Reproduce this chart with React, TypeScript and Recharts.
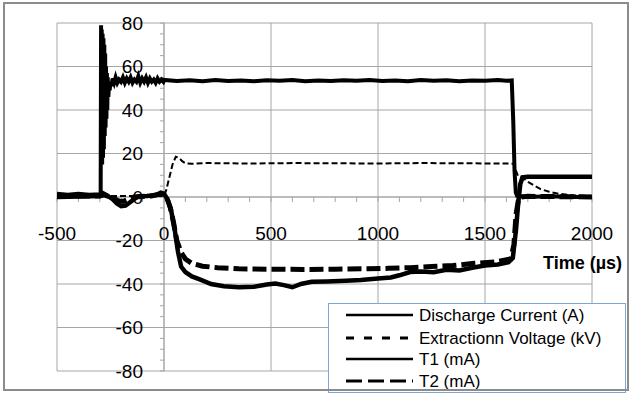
import { LineChart, Line, XAxis, YAxis, CartesianGrid, ReferenceLine } from "recharts"

// chart frame
const W = 631
const H = 393
const M = { top: 23, right: 39, bottom: 21, left: 56 }
const AXIS_SIZE = 1
const PLOT_W = W - M.left - M.right - AXIS_SIZE
const PLOT_H = H - M.top - M.bottom - AXIS_SIZE
const PLOT_LEFT = M.left + AXIS_SIZE
const X_MIN = -500
const X_MAX = 2000
const Y_MIN = -80
const Y_MAX = 80
const X0_PX = PLOT_LEFT + (PLOT_W * (0 - X_MIN)) / (X_MAX - X_MIN)
const Y0_PX = M.top + (PLOT_H * (Y_MAX - 0)) / (Y_MAX - Y_MIN)

const xTicks = [-500, 0, 500, 1000, 1500, 2000]
const yTicks = [-80, -60, -40, -20, 0, 20, 40, 60, 80]
const xMinorTicks = [
  -500, -400, -300, -200, -100, 0, 100, 200, 300, 400, 500, 600, 700, 800, 900, 1000, 1100, 1200,
  1300, 1400, 1500, 1600, 1700, 1800, 1900, 2000,
]
const yMinorTicks = [
  -80, -75, -70, -65, -60, -55, -50, -45, -40, -35, -30, -25, -20, -15, -10, -5, 0, 5, 10, 15, 20,
  25, 30, 35, 40, 45, 50, 55, 60, 65, 70, 75, 80,
]

// Discharge Current (A)
const dcTime = [
  -500, -450, -400, -350, -300, -296, -294, -293, -291, -289, -287, -285, -283, -281, -279, -277,
  -275, -273, -271, -269, -267, -265, -263, -260, -257, -254, -250, -246, -240, -233,
  -226, -218, -210, -201, -192, -183, -174, -165, -156, -147, -138, -129, -120, -111, -102, -93, -84,
  -75, -66, -57, -48, -39, -30, -21, -12, -3, 0, 60, 120, 180, 240, 300, 360, 420, 480, 540, 600,
  660, 720, 780, 840, 900, 960, 1020, 1080, 1140, 1200, 1260, 1320, 1380, 1440, 1500, 1560, 1600,
  1625, 1632, 1638, 1644, 1650, 1700, 1800, 1900, 2000,
]
const dcValue = [
  1.5, 1, 1.5, 1, 1.2, 1, 79, 16, 77, 15, 75, 18, 73, 22, 70, 28, 66, 32, 60, 36, 57, 40, 55, 46, 52,
  49, 53, 51, 54.5, 52.5, 55, 52.5, 54, 53, 55, 52.5, 54.5, 53, 55, 52.5, 54, 53, 55.5,
  52.5, 54.5, 53, 55, 52.5, 54.5, 53, 54, 52.5, 54.5, 53, 54, 53, 53.8, 53.3, 53.7, 53.2, 53.8,
  53.3, 53.6, 53.2, 53.7, 53.4, 53.8, 53.2, 53.6, 53.3, 53.7, 53.4, 53.8, 53.3, 53.6, 53.2, 53.8,
  53.4, 53.7, 53.2, 53.6, 53.5, 53.8, 53.4, 53.6, 35, 12, 2, 0.5, 0, 0.3, 0, 0,
]

// Extraction Voltage (kV)
const evTime = [
  -500, -300, -100, 0, 10, 25, 40, 55, 70, 85, 100, 130, 200, 400, 600, 800, 1000, 1200, 1400, 1600,
  1635, 1645, 1655, 1665, 1680, 1700, 1730, 1760, 1800, 1850, 1900, 1950, 2000,
]
const evValue = [
  0.5, 0.5, 0.5, 0.5, 3, 9, 15, 18.5, 18, 16.5, 15.5, 15.3, 15.6, 15.4, 15.6, 15.5, 15.4, 15.6,
  15.5, 15.4, 15.3, 12, 9.5, 9, 8.5, 7, 5.3, 3.6, 2.4, 1.4, 0.9, 0.6, 0.5,
]

// T1 (mA)
const t1Time = [
  -500, -300, -290, -270, -240, -220, -200, -180, -160, -140, -120, -80, -40, -15, 0, 10, 20, 35, 50,
  65, 80, 100, 130, 170, 220, 280, 350, 420, 480, 520, 560, 600, 640, 690, 760, 850, 920, 1000, 1060,
  1100, 1150, 1200, 1260, 1320, 1380, 1440, 1500, 1560, 1610, 1630, 1645, 1655, 1665, 1675, 1700,
  2000,
]
const t1Value = [
  0, 0.5, 2, 1, -1, -3, -4.2, -4, -2.5, -1, 0.3, 0.5, 0.8, 2, 1.5, 0, -2, -7, -15, -25, -32, -34.5,
  -36.5, -38, -40, -41, -41.5, -41.3, -40.2, -39.8, -40.5, -41.5, -40, -39, -38.8, -38.5, -38.2,
  -37.5, -37, -36, -34.5, -34.3, -34.6, -33.5, -33.8, -32.5, -31.5, -31, -30, -28, -15, -3, 6, 9,
  9.3, 9.3,
]

// T2 (mA)
const t2Time = [
  -500, -300, -280, -240, -210, -190, -170, -140, -60, -15, 0, 15, 30, 45, 60, 80, 100, 130, 180, 250,
  350, 500, 650, 800, 950, 1050, 1150, 1250, 1350, 1450, 1550, 1620, 1635, 1645, 1655, 1665, 1700,
  2000,
]
const t2Value = [
  0.5, 0.5, 1, -0.5, -1.8, -2, -1.2, 0, 0.5, 1.5, 1, -1, -5, -12, -20, -25.5, -28.5, -30.5, -31.8,
  -32.5, -33, -33.2, -33.3, -33.2, -33, -32.8, -32.5, -32, -31.5, -30.5, -29.8, -28.5, -22, -8, -2,
  0, 0.3, 0,
]

const toPoints = (xs: number[], ys: number[]) => xs.map((x, i) => ({ x, y: ys[i] }))

const series = [
  { name: "Discharge Current (A)", data: toPoints(dcTime, dcValue), width: 4, dash: undefined, legendWidth: 2.5, legendDash: undefined },
  { name: "Extractionn Voltage (kV)", data: toPoints(evTime, evValue), width: 2, dash: "6 3", legendWidth: 3, legendDash: "8 10" },
  { name: "T1 (mA)", data: toPoints(t1Time, t1Value), width: 4.5, dash: undefined, legendWidth: 2.5, legendDash: undefined },
  { name: "T2 (mA)", data: toPoints(t2Time, t2Value), width: 5, dash: "14 5", legendWidth: 3, legendDash: "16 6" },
]

const GRID = "#a6a6a6"
const FONT = "'Liberation Sans', Arial, sans-serif"

const renderXTick = (props: any) => (
  <text
    key={"xt" + props.payload.value}
    x={props.x}
    y={Y0_PX + 36}
    textAnchor="middle"
    dominantBaseline="central"
    style={{ fontFamily: FONT, fontSize: 19 }}
    fill="#000"
  >
    {props.payload.value}
  </text>
)

const renderYTick = (props: any) => (
  <text
    key={"yt" + props.payload.value}
    x={X0_PX - 21}
    y={props.y}
    textAnchor="end"
    dominantBaseline="central"
    style={{ fontFamily: FONT, fontSize: 19 }}
    fill="#000"
  >
    {props.payload.value}
  </text>
)

const xTickLen = (4 * (X_MAX - X_MIN)) / PLOT_W
const yTickLen = (5 * (Y_MAX - Y_MIN)) / PLOT_H

function ChartLegend() {
  const rows = [11, 34, 55, 77]
  return (
    <svg width={298} height={90} style={{ position: "absolute", left: 328, top: 303, background: "#fff", border: "1px solid #7ea6d6", boxSizing: "border-box" }}>
      {series.map((s, i) => (
        <g key={s.name}>
          <line x1={17} x2={84} y1={rows[i]} y2={rows[i]} stroke="#000" strokeWidth={s.legendWidth} strokeDasharray={s.legendDash} />
          <text x={90} y={rows[i]} dominantBaseline="central" style={{ fontFamily: FONT, fontSize: 17 }} fill="#000">
            {s.name}
          </text>
        </g>
      ))}
    </svg>
  )
}

export default function App() {
  return (
    <div style={{ position: "absolute", left: 0, top: 0, width: W, height: H, background: "#fff", overflow: "hidden" }}>
      <LineChart width={W} height={H} margin={M}>
        <CartesianGrid stroke={GRID} strokeWidth={1} />
        <XAxis
          dataKey="x"
          type="number"
          domain={[X_MIN, X_MAX]}
          ticks={xTicks}
          height={AXIS_SIZE}
          axisLine={false}
          tickLine={false}
          tick={renderXTick}
          interval={0}
          allowDataOverflow
        />
        <YAxis
          dataKey="y"
          type="number"
          domain={[Y_MIN, Y_MAX]}
          ticks={yTicks}
          width={AXIS_SIZE}
          axisLine={false}
          tickLine={false}
          tick={renderYTick}
          interval={0}
          allowDataOverflow
        />
        <ReferenceLine x={0} stroke={GRID} />
        <ReferenceLine y={0} stroke={GRID} />
        {yMinorTicks.map((v) => (
          <ReferenceLine key={"ym" + v} segment={[{ x: -xTickLen, y: v }, { x: 0, y: v }]} stroke={GRID} ifOverflow="visible" />
        ))}
        {xMinorTicks.map((v) => (
          <ReferenceLine key={"xm" + v} segment={[{ x: v, y: 0 }, { x: v, y: -yTickLen }]} stroke={GRID} ifOverflow="visible" />
        ))}
        {series.map((s) => (
          <Line
            key={s.name}
            data={s.data}
            dataKey="y"
            name={s.name}
            type="linear"
            stroke="#000"
            strokeWidth={s.width}
            strokeDasharray={s.dash}
            dot={false}
            isAnimationActive={false}
          />
        ))}
      </LineChart>
      <div
        style={{
          position: "absolute",
          left: 543,
          top: 252,
          fontFamily: FONT,
          fontWeight: "bold",
          fontSize: 18,
          lineHeight: "22px",
          color: "#000",
          whiteSpace: "nowrap",
        }}
      >
        Time (µs)
      </div>
      <ChartLegend />
      <div
        style={{
          position: "absolute",
          left: 3,
          top: 2,
          width: 626,
          height: 389,
          border: "2px solid #8c8c8c",
          boxSizing: "border-box",
          pointerEvents: "none",
        }}
      />
    </div>
  )
}
